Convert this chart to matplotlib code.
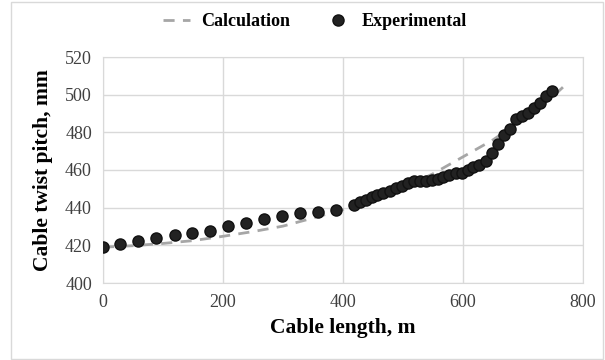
import matplotlib
matplotlib.use("Agg")
import matplotlib.pyplot as plt
from matplotlib.patches import Rectangle

calc_x = [0, 50, 100, 150, 200, 250, 300, 350, 400, 450, 500, 550, 600, 650, 700, 750, 770]
calc_y = [419, 419.8, 421, 422.5, 424.8, 427.3, 430.2, 434.5, 439, 444.5, 450.5, 458, 467, 476, 487, 499, 505]

exp_x = [0, 29, 59, 89, 120, 149, 179, 209, 239, 268, 299, 328, 358, 388,
         418, 428, 438, 448, 457, 467, 478, 488, 498, 509, 518, 528, 538, 548, 558,
         567, 577, 588, 598, 608, 617, 627, 638, 649, 658, 668, 678, 688, 698, 708,
         718, 728, 738, 748]
exp_y = [419.3, 420.7, 422.3, 423.7, 425.3, 426.7, 427.8, 430.3, 431.7, 433.8, 435.6, 437.3, 437.9, 438.9,
         441.4, 443.2, 444.0, 445.5, 446.7, 448.0, 449.0, 450.3, 451.5, 453.0, 454.2, 454.2, 454.2, 454.7, 455.0,
         456.5, 457.3, 458.2, 458.6, 460.0, 461.4, 462.7, 465.0, 468.9, 473.8, 478.8, 481.6, 486.9, 488.7, 490.4,
         492.8, 495.4, 499.3, 502.1]

x_ticks = [0, 200, 400, 600, 800]
y_ticks = [400, 420, 440, 460, 480, 500, 520]

plt.rcParams['font.family'] = ['Liberation Serif', 'DejaVu Serif']

fig = plt.figure(figsize=(6.05, 3.6), dpi=100)
ax = fig.add_axes([103/605, 1-283/360, 480/605, 226/360])

ax.plot(calc_x, calc_y, color='#a6a6a6', lw=2.0, dashes=(4, 3), label='Calculation', zorder=2)
ax.plot(exp_x, exp_y, 'o', color='#222222', mec='#111111', ms=8, label='Experimental', zorder=3)

ax.set_xlim(0, 800)
ax.set_ylim(400, 520)
ax.set_xticks(x_ticks)
ax.set_yticks(y_ticks)
ax.grid(True, color='#d9d9d9', lw=1)
ax.set_axisbelow(True)
for s in ax.spines.values():
    s.set_color('#d9d9d9')
ax.tick_params(length=0, labelsize=13, pad=8)
for t in ax.get_xticklabels() + ax.get_yticklabels():
    t.set_color('#404040')

ax.set_xlabel('Cable length, m', fontsize=15.5, fontweight='bold', labelpad=5)
ax.set_ylabel('Cable twist pitch, mm', fontsize=15.5, fontweight='bold', labelpad=9)

leg = fig.legend(loc='center', bbox_to_anchor=(315/605, 1-22/360), ncol=2, frameon=False,
                 prop={'weight': 'bold', 'size': 13}, handlelength=1.5, columnspacing=1.9,
                 handletextpad=0.6)

fig.patches.append(Rectangle((11/605, 0.002), 592/605, 0.992, transform=fig.transFigure,
                             fill=False, edgecolor='#d9d9d9', lw=1))

fig.savefig('out.png', dpi=100)
